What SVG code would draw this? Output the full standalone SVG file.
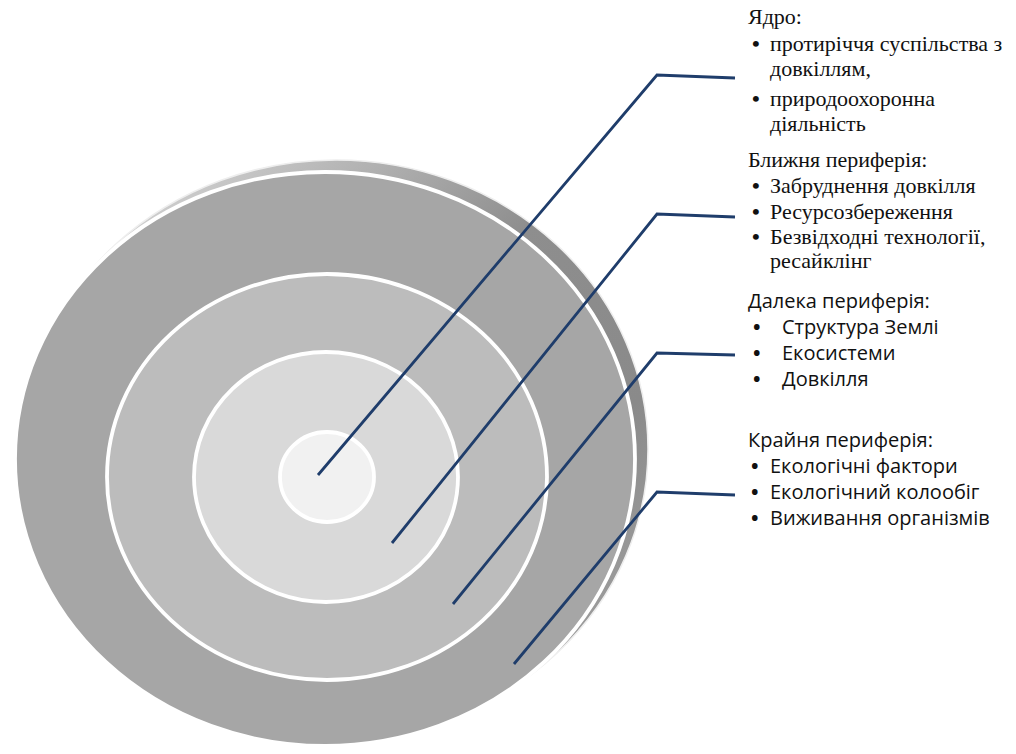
<svg xmlns="http://www.w3.org/2000/svg" width="1016" height="754" viewBox="0 0 1016 754">
<defs>
<linearGradient id="gShadow" x1="0.1" y1="0.1" x2="0.9" y2="0.9">
<stop offset="0" stop-color="#d6d6d6"/>
<stop offset="0.45" stop-color="#8e8e8e"/>
<stop offset="0.75" stop-color="#8a8a8a"/>
<stop offset="1" stop-color="#a0a0a0"/>
</linearGradient>
<style>
.ring{stroke:#ffffff;stroke-width:3.8}
.conn{fill:none;stroke:#1f3d6b;stroke-width:2.8;stroke-linejoin:miter}
.serif{font-family:"Liberation Serif","Times New Roman",serif;font-size:22px;fill:#111111}
.sans{font-family:"Open Sans","Noto Sans","Liberation Sans",sans-serif;font-size:20px;fill:#111111}
.b{font-weight:bold}
</style>
</defs>
<rect width="1016" height="754" fill="#ffffff"/>
<g id="shadow">
<ellipse cx="336" cy="449" rx="312" ry="289" fill="url(#gShadow)" stroke="#eeeeee" stroke-width="1.5"/>
</g>
<g id="extreme-periphery">
<ellipse class="ring" cx="325" cy="459" rx="310" ry="287" fill="#a6a6a6" stroke-width="2.8"/>
</g>
<g id="far-periphery">
<ellipse class="ring" cx="327" cy="477" rx="220" ry="203" fill="#bcbcbc"/>
</g>
<g id="near-periphery">
<ellipse class="ring" cx="326" cy="477" rx="132" ry="125" fill="#d9d9d9"/>
</g>
<g id="core">
<ellipse class="ring" cx="327" cy="477" rx="47" ry="45" fill="#f1f1f1"/>
</g>
<g id="connectors">
<polyline class="conn" points="318,475 657,75 735,78"/>
<polyline class="conn" points="392,543 657,214 735,217"/>
<polyline class="conn" points="453,604 657,353 735,355"/>
<polyline class="conn" points="514,664 657,492 735,495"/>
</g>
<g id="label-core" class="serif">
<text x="748" y="24">Ядро:</text>
<text class="b" x="752" y="51">•</text><text x="770" y="51">протиріччя суспільства з</text>
<text x="770" y="76">довкіллям,</text>
<text class="b" x="752" y="106">•</text><text x="770" y="106">природоохоронна</text>
<text x="770" y="131">діяльність</text>
</g>
<g id="label-near" class="serif">
<text x="748" y="167">Ближня периферія:</text>
<text class="b" x="752" y="193">•</text><text x="770" y="193">Забруднення довкілля</text>
<text class="b" x="752" y="219">•</text><text x="770" y="219">Ресурсозбереження</text>
<text class="b" x="752" y="244">•</text><text x="770" y="244">Безвідходні технології,</text>
<text x="770" y="268">ресайклінг</text>
</g>
<g id="label-far" class="sans">
<text x="748" y="308">Далека периферія:</text>
<text class="b" x="753" y="334">•</text><text x="782" y="334">Структура Землі</text>
<text class="b" x="753" y="360">•</text><text x="782" y="360">Екосистеми</text>
<text class="b" x="753" y="386">•</text><text x="782" y="386">Довкілля</text>
</g>
<g id="label-extreme" class="sans">
<text x="748" y="447">Крайня периферія:</text>
<text class="b" x="751" y="473">•</text><text x="770" y="473">Екологічні фактори</text>
<text class="b" x="751" y="499">•</text><text x="770" y="499">Екологічний колообіг</text>
<text class="b" x="751" y="525">•</text><text x="770" y="525">Виживання організмів</text>
</g>
</svg>
